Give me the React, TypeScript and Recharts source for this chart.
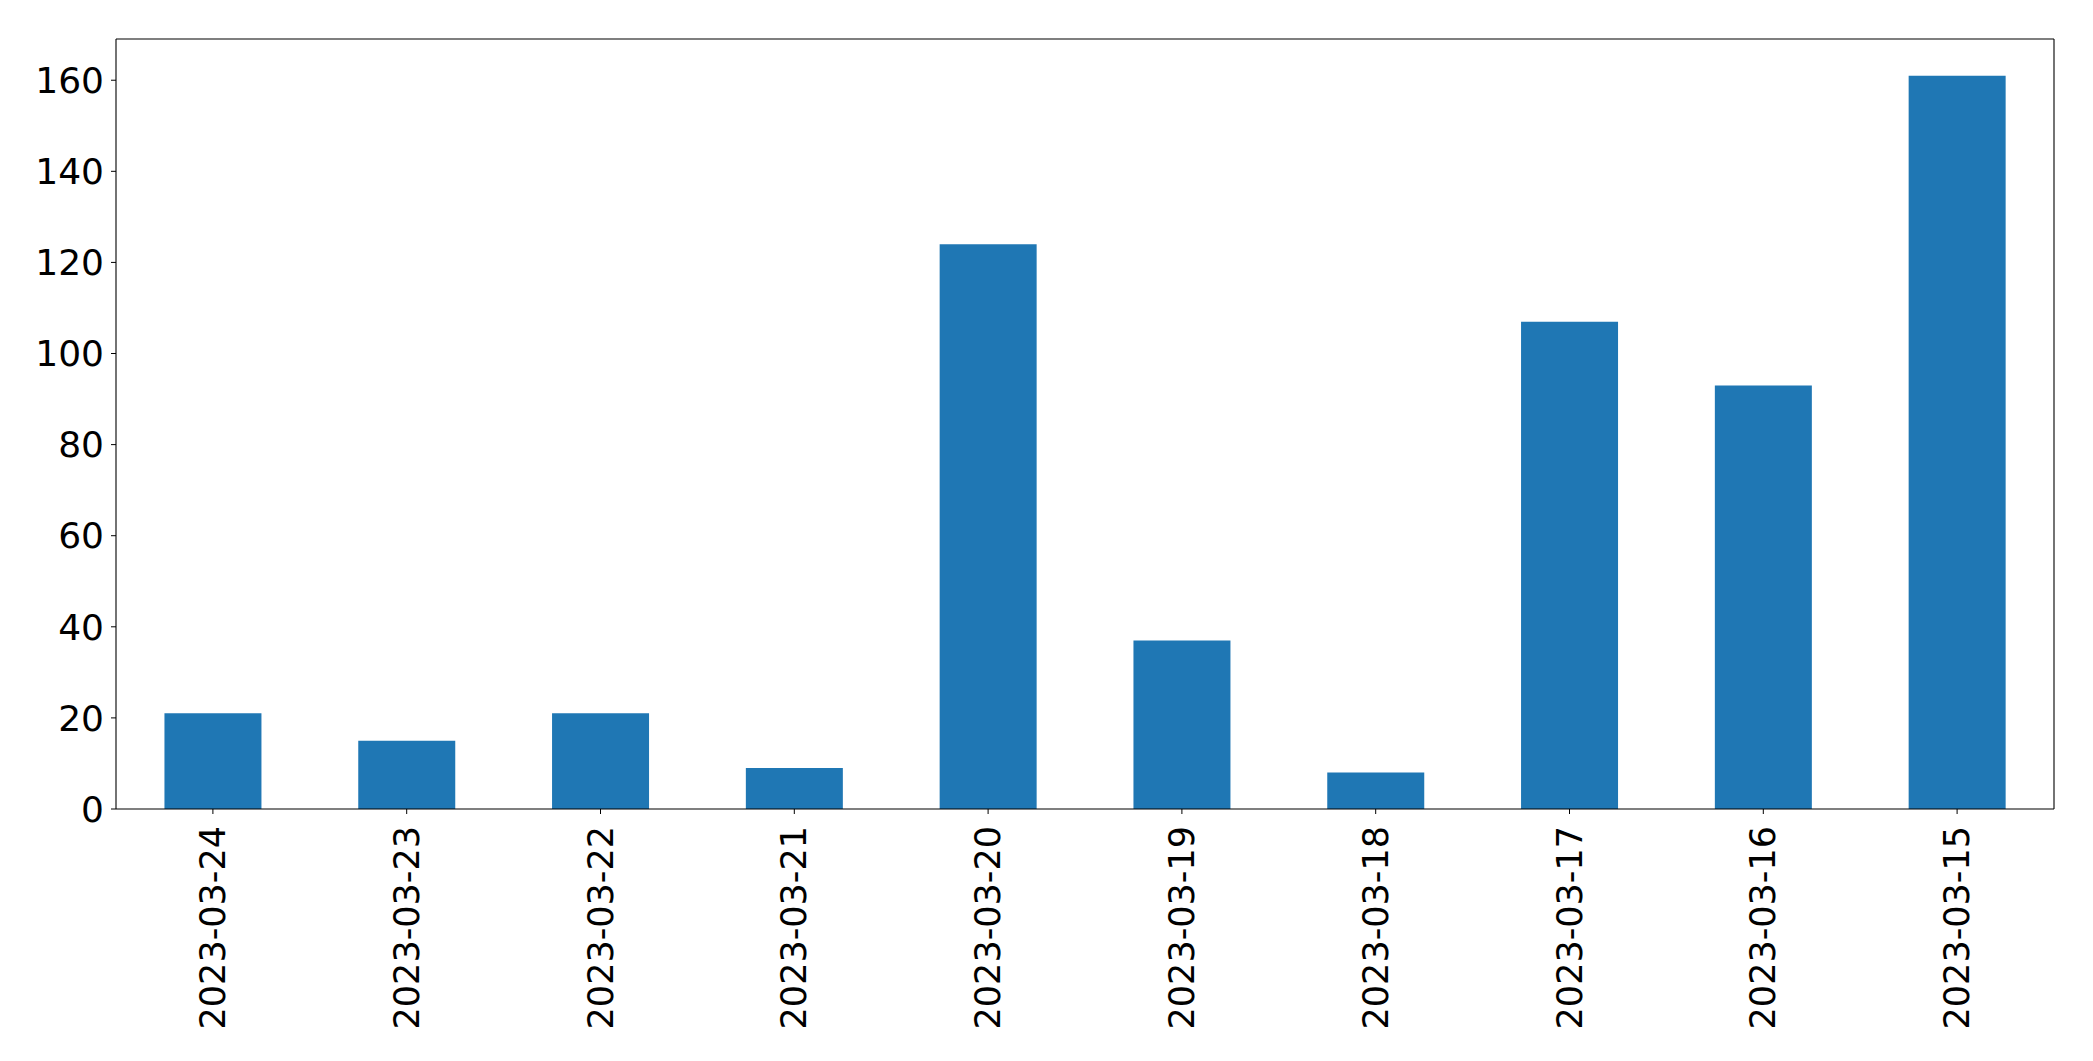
import { BarChart, Bar, XAxis, YAxis, ReferenceLine } from 'recharts';

const dates = [
  '2023-03-24', '2023-03-23', '2023-03-22', '2023-03-21', '2023-03-20',
  '2023-03-19', '2023-03-18', '2023-03-17', '2023-03-16', '2023-03-15',
];
const counts = [21, 15, 21, 9, 124, 37, 8, 107, 93, 161];
const yTicks = [0, 20, 40, 60, 80, 100, 120, 140, 160];

const FONT = 'DejaVu Sans';
const BLUE = '#1f77b4';

function DateTick({ x, y, payload }: any) {
  return (
    <text
      x={x}
      y={y}
      transform={`rotate(-90, ${x}, ${y})`}
      textAnchor="end"
      dominantBaseline="central"
      fontFamily={FONT}
      fontSize={35}
      fill="#000"
    >
      {payload.value}
    </text>
  );
}

export default function App() {
  const data = dates.map((d, i) => ({ date: d, value: counts[i] }));
  // matplotlib-style 5% headroom above the tallest bar
  const yMax = Math.max(...counts) * 1.05;

  return (
    <div style={{ position: 'absolute', left: 0, top: 0, width: 2093, height: 1061, background: '#fff' }}>
      <BarChart
        width={2093}
        height={1061}
        data={data}
        margin={{ top: 39, right: 39, left: 0, bottom: 0 }}
        barCategoryGap="25%"
      >
        <XAxis
          dataKey="date"
          height={252}
          interval={0}
          tick={<DateTick />}
          tickSize={5}
          tickMargin={12}
          tickLine={{ stroke: '#000', strokeWidth: 1 }}
          axisLine={{ stroke: '#000', strokeWidth: 1.1 }}
        />
        <YAxis
          width={116}
          domain={[0, yMax]}
          ticks={yTicks}
          interval={0}
          tickSize={5}
          tickMargin={7}
          tick={{ fontFamily: FONT, fontSize: 36, fill: '#000' }}
          tickLine={{ stroke: '#000', strokeWidth: 1 }}
          axisLine={{ stroke: '#000', strokeWidth: 1.1 }}
        />
        <Bar dataKey="value" fill={BLUE} isAnimationActive={false} />
        {/* top and right spines */}
        <ReferenceLine y={yMax} stroke="#000" strokeWidth={1.1} />
        <ReferenceLine x={dates[dates.length - 1]} position="end" stroke="#000" strokeWidth={1.1} />
      </BarChart>
    </div>
  );
}
